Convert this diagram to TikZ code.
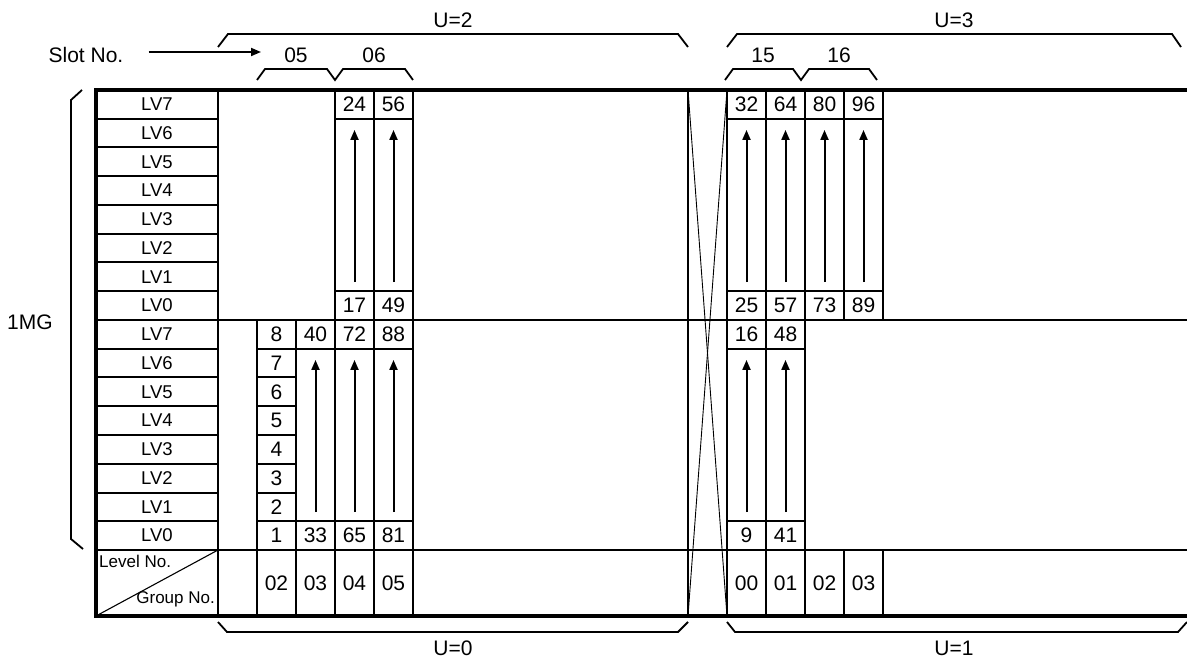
\documentclass[tikz,border=0pt]{standalone}
\usepackage{fontspec}
\setmainfont{Liberation Sans}
\usetikzlibrary{arrows.meta}

\begin{document}
\begin{tikzpicture}[x=1pt, y=-1pt,
        frame/.style={line width=3.4pt},
        sepline/.style={line width=2.8pt},
        gridline/.style={line width=2.3pt},
        rowline/.style={line width=2pt},
        bracket/.style={line width=1.8pt},
        cross/.style={line width=0.9pt},
        uparrow/.style={line width=2pt, -{Triangle[length=10pt,width=8pt]}, shorten <=9pt, shorten >=11pt},
        cell/.style={minimum width=39pt, minimum height=28.75pt, inner sep=0pt, font=\fontsize{21}{24}\selectfont},
        lv/.style={inner sep=0pt, font=\fontsize{18.5}{20}\selectfont},
        lbl/.style={inner sep=0pt, font=\fontsize{21}{24}\selectfont},
        small/.style={inner sep=0pt, font=\fontsize{17}{18}\selectfont}]
        \useasboundingbox (0,0) rectangle (1187,660);

        % outer frame and section lines
        \draw[frame] (1187,90) -- (96,90) -- (96,616) -- (1187,616);
        \draw[sepline] (96,320) -- (1187,320);
        \draw[sepline] (96,550) -- (1187,550);

        % level column
        \draw[gridline] (218,90) -- (218,616);
        \foreach \k in {1,...,7} {
            \draw[rowline] (96,{90+\k*28.75}) -- (218,{90+\k*28.75});
            \draw[rowline] (96,{320+\k*28.75}) -- (218,{320+\k*28.75});
        }
        \foreach \i in {0,...,7} {
            \node[lv] (lvu\i) at (157,{90+(7.5-\i)*28.75}) {LV\i};
            \node[lv] (lvl\i) at (157,{320+(7.5-\i)*28.75}) {LV\i};
        }

        % group columns
        \foreach \x in {257,296}
            \draw[gridline] (\x,320) -- (\x,616);
        \foreach \x in {335,374,413,688,727,766,805}
            \draw[gridline] (\x,90) -- (\x,616);
        \foreach \x in {844,883} {
            \draw[gridline] (\x,90) -- (\x,320);
            \draw[gridline] (\x,550) -- (\x,616);
        }
        \foreach \y in {118.75,291.25} {
            \draw[rowline] (335,\y) -- (413,\y);
            \draw[rowline] (727,\y) -- (883,\y);
        }
        \foreach \y in {348.75,521.25} {
            \draw[rowline] (257,\y) -- (413,\y);
            \draw[rowline] (727,\y) -- (805,\y);
        }
        \foreach \k in {2,...,6}
            \draw[rowline] (257,{320+\k*28.75}) -- (296,{320+\k*28.75});

        % crossing
        \draw[cross] (688,90) -- (727,616);
        \draw[cross] (727,90) -- (688,616);

        % numbers, upper half
        \foreach \x/\t/\b/\n in {354.5/24/17/a, 393.5/56/49/b, 746.5/32/25/c, 785.5/64/57/d, 824.5/80/73/e, 863.5/96/89/f} {
            \node[cell] (top\n) at (\x,104.375) {\t};
            \node[cell] (bot\n) at (\x,305.625) {\b};
            \draw[uparrow] (bot\n.north) -- (top\n.south);
        }
        % numbers, lower half
        \foreach \x/\t/\b/\n in {315.5/40/33/g, 354.5/72/65/h, 393.5/88/81/i, 746.5/16/9/j, 785.5/48/41/k} {
            \node[cell] (top\n) at (\x,334.375) {\t};
            \node[cell] (bot\n) at (\x,535.625) {\b};
            \draw[uparrow] (bot\n.north) -- (top\n.south);
        }
        \foreach \i in {1,...,8}
            \node[cell] (lev\i) at (276.5,{320+(8.5-\i)*28.75}) {\i};

        % group numbers
        \foreach \x/\g [count=\c] in {276.5/02, 315.5/03, 354.5/04, 393.5/05, 746.5/00, 785.5/01, 824.5/02, 863.5/03}
            \node[cell] (grp\c) at (\x,583) {\g};
        \draw[line width=1.1pt] (96,616) -- (218,550);
        \node[small, anchor=base west] (levelno) at (99,567) {Level No.};
        \node[small, anchor=base east] (groupno) at (215,603) {Group No.};

        % slot numbers
        \node[lbl] (slot) at (86,55) {Slot No.};
        \coordinate (slotend) at (261,52);
        \draw[line width=1.8pt, -{Triangle[length=10pt,width=8pt]}, shorten <=25pt] (slot.east |- slotend) -- (slotend);
        \draw[bracket] (257,80) -- (265,69) -- (327,69) -- (335,80) -- (343,69) -- (405,69) -- (413,80);
        \node[lbl] (s05) at (296,55) {05};
        \node[lbl] (s06) at (374,55) {06};
        \draw[bracket] (725,80) -- (733,69) -- (793,69) -- (801,80) -- (809,69) -- (869,69) -- (877,80);
        \node[lbl] (s15) at (763,55) {15};
        \node[lbl] (s16) at (839,55) {16};

        % units
        \draw[bracket] (218,47) -- (228,34) -- (678,34) -- (688,47);
        \node[lbl] (u2) at (453,20) {U=2};
        \draw[bracket] (727,47) -- (737,34) -- (1172,34) -- (1181,47);
        \node[lbl] (u3) at (954,20) {U=3};
        \draw[bracket] (218,622) -- (227,632) -- (678,632) -- (688,622);
        \node[lbl] (u0) at (453,648) {U=0};
        \draw[bracket] (727,622) -- (735,632) -- (1178,632) -- (1187,622);
        \node[lbl] (u1) at (954,648) {U=1};

        % 1MG
        \draw[bracket] (82,90) -- (71,100) -- (71,539) -- (83,549);
        \node[lbl] (mg) at (30,322) {1MG};
    \end{tikzpicture}
\end{document}
